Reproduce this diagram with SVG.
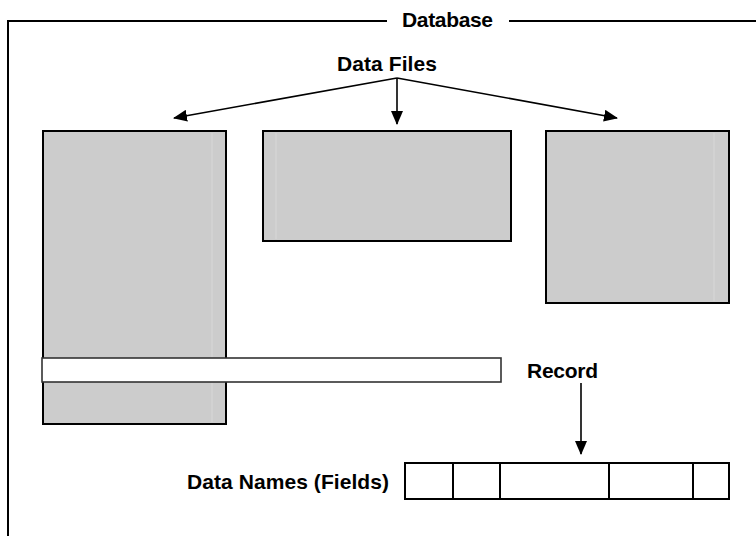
<svg xmlns="http://www.w3.org/2000/svg" width="756" height="536" viewBox="0 0 756 536">
<style>
.t{font-family:"Liberation Sans",Arial,sans-serif;font-weight:bold;font-size:21px;fill:#000}
.file{fill:#cccccc;stroke:#000;stroke-width:2}
.frame{fill:none;stroke:#000;stroke-width:2}
.conn{fill:none;stroke:#000;stroke-width:1.6}
.cell{fill:#fff;stroke:#000;stroke-width:2}
.streak{stroke:#d8d8d8;stroke-width:1}
</style>
<defs>
<marker id="ah" markerUnits="userSpaceOnUse" markerWidth="14" markerHeight="12" viewBox="0 0 14 12" refX="13" refY="6" orient="auto">
<path d="M0,0 L14,6 L0,12 Z" fill="#000"/>
</marker>
</defs>
<rect width="756" height="536" fill="#fff"/>
<g id="database">
<path class="frame" d="M8,536 V21 H387 M509,21 H756"/>
<text class="t" x="402" y="26.5" textLength="91">Database</text>
</g>
<g id="datafiles-label">
<text class="t" x="337" y="71" textLength="100">Data Files</text>
</g>
<g id="file1">
<rect class="file" x="43" y="131" width="183" height="293"/>
<line class="streak" x1="212" y1="133" x2="212" y2="422"/>
</g>
<g id="file2">
<rect class="file" x="263" y="131" width="248" height="110"/>
<line class="streak" x1="276" y1="133" x2="276" y2="239"/>
</g>
<g id="file3">
<rect class="file" x="546" y="131" width="183" height="172"/>
<line class="streak" x1="714" y1="133" x2="714" y2="301"/>
</g>
<g id="record">
<rect x="42" y="358" width="459" height="24" fill="#fff" stroke="#333" stroke-width="1.6"/>
<text class="t" x="527" y="378" textLength="71">Record</text>
</g>
<g id="fields">
<text class="t" x="187" y="489" textLength="202">Data Names (Fields)</text>
<rect class="cell" x="405" y="463" width="324" height="36"/>
<line class="cell" x1="453" y1="463" x2="453" y2="499"/>
<line class="cell" x1="500" y1="463" x2="500" y2="499"/>
<line class="cell" x1="609" y1="463" x2="609" y2="499"/>
<line class="cell" x1="693" y1="463" x2="693" y2="499"/>
</g>
<g id="connectors">
<line class="conn" x1="397" y1="78" x2="174" y2="118" marker-end="url(#ah)"/>
<line class="conn" x1="397" y1="78" x2="397" y2="124" marker-end="url(#ah)"/>
<line class="conn" x1="397" y1="78" x2="617" y2="118" marker-end="url(#ah)"/>
<line class="conn" x1="581" y1="383" x2="581" y2="454" marker-end="url(#ah)"/>
</g>
</svg>
